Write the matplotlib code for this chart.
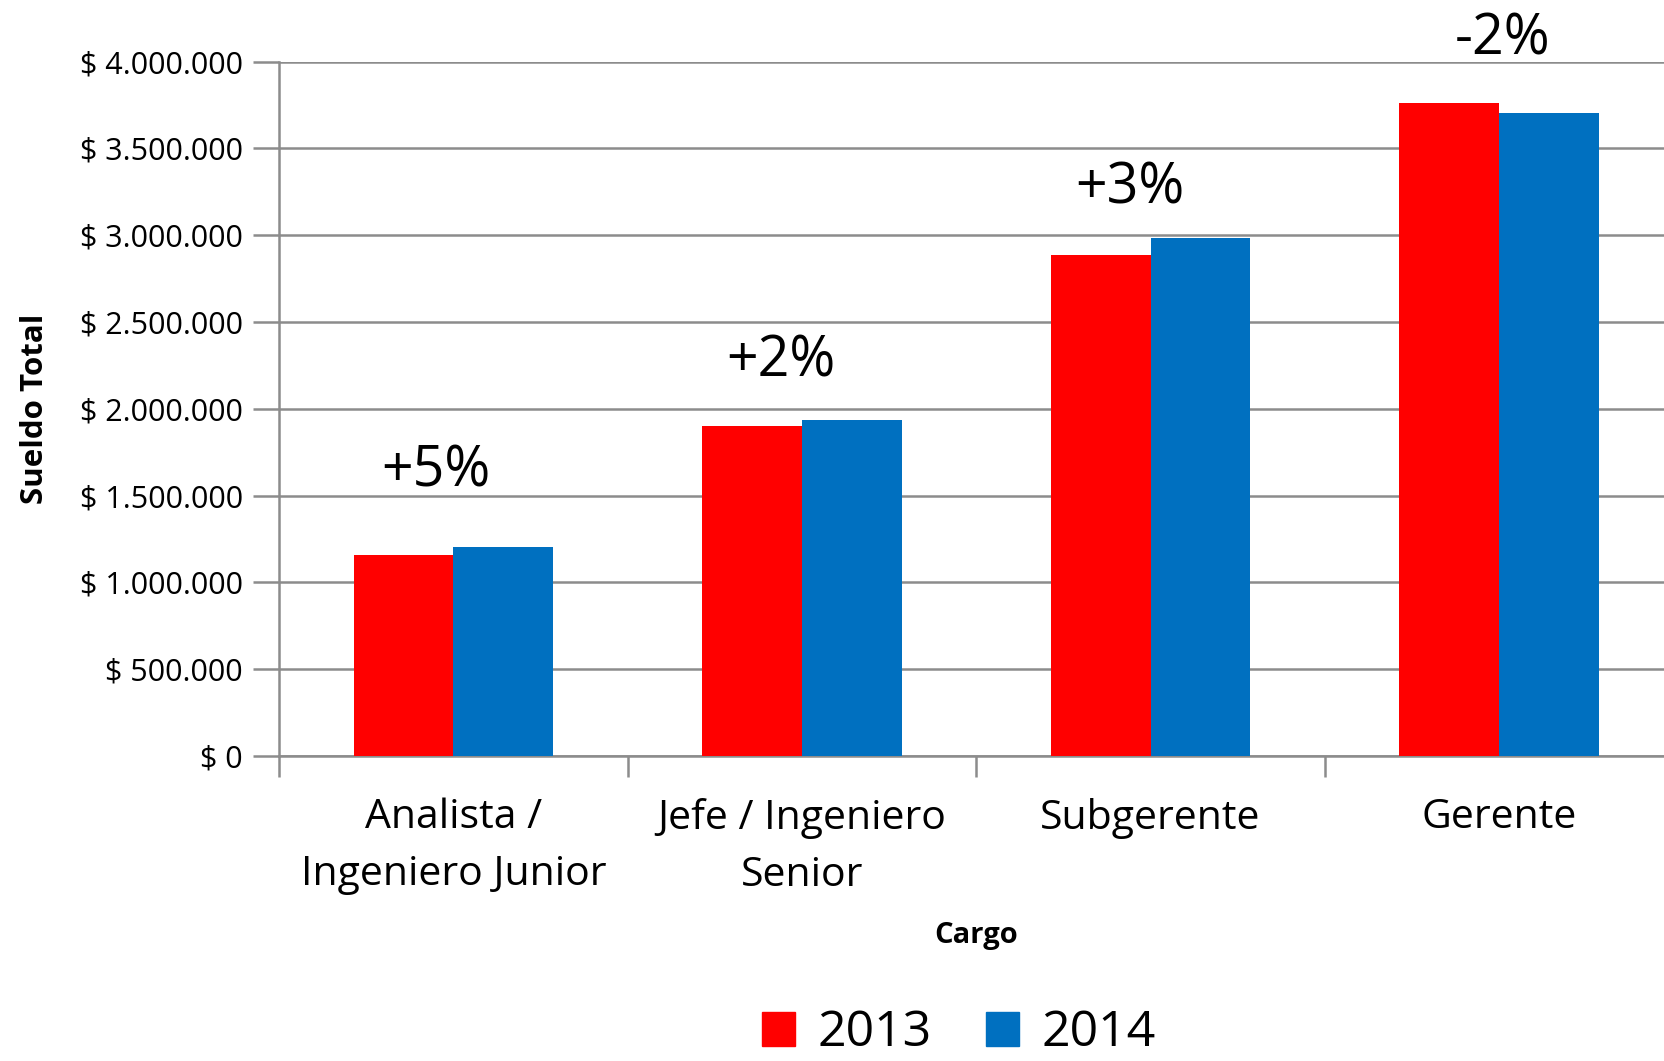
import matplotlib
matplotlib.use("Agg")
import matplotlib.pyplot as plt
from matplotlib.patches import Patch
from matplotlib.ticker import FuncFormatter
import numpy as np

# datos
cargos = ["Analista /\nIngeniero Junior", "Jefe / Ingeniero\nSenior", "Subgerente", "Gerente"]
sueldo_2013 = [1156000, 1902000, 2887000, 3761000]
sueldo_2014 = [1205000, 1933000, 2985000, 3706000]
variacion = ["+5%", "+2%", "+3%", "-2%"]
anios = ["2013", "2014"]

ROJO = "#FF0000"
AZUL = "#0070C0"
GRIS = "#8C8C8C"

plt.rcParams['font.family'] = ['Open Sans', 'DejaVu Sans']

fig = plt.figure(figsize=(16.65, 10.61), dpi=100)
ax = fig.add_axes([0.1677, 0.2875, 0.8373, 0.6545])

x = np.arange(len(cargos))
ancho = 0.2857
ax.bar(x - ancho / 2, sueldo_2013, ancho, color=ROJO, zorder=3)
ax.bar(x + ancho / 2, sueldo_2014, ancho, color=AZUL, zorder=3)

ax.set_xlim(-0.5, len(cargos) - 0.5)
ax.set_ylim(0, 4000000)
ax.set_yticks(np.arange(0, 4000001, 500000))
ax.yaxis.set_major_formatter(FuncFormatter(lambda v, p: "$ " + f"{int(v):,}".replace(",", ".")))
ax.grid(axis="y", color=GRIS, linewidth=1.8, zorder=0)

# marcas en los limites de categoria, etiquetas en el centro
ax.set_xticks(np.arange(-0.5, len(cargos) - 0.5, 1))
ax.set_xticklabels([])
ax.set_xticks(x, cargos, minor=True)
ax.tick_params(axis="x", which="major", length=15, width=1.8, color=GRIS, direction="out")
ax.tick_params(axis="x", which="minor", length=0, pad=30, labelsize=29.5)
for lbl in ax.get_xticklabels(minor=True):
    lbl.set_linespacing(1.55)
ax.tick_params(axis="y", length=19, width=1.8, color=GRIS, pad=7, labelsize=22)

for s in ["top", "right"]:
    ax.spines[s].set_visible(False)
for s in ["left", "bottom"]:
    ax.spines[s].set_color(GRIS)
    ax.spines[s].set_linewidth(1.8)

# etiquetas de variacion sobre cada grupo
desplaz_y = [350000, 250000, 200000, 280000]
desplaz_x = [-0.05, -0.06, -0.06, 0.01]
for i, txt in enumerate(variacion):
    tope = max(sueldo_2013[i], sueldo_2014[i])
    ax.text(x[i] + desplaz_x[i], tope + desplaz_y[i], txt, ha="center", va="baseline",
            fontsize=40, clip_on=False, zorder=5)

fig.text(0.021, 0.6145, "Sueldo Total", rotation=90, ha="center", va="center",
         fontsize=22.5, fontweight="bold")
fig.text(0.5865, 0.118, "Cargo", ha="center", va="center", fontsize=21, fontweight="bold")

handles = [Patch(color=ROJO), Patch(color=AZUL)]
fig.legend(handles, anios, loc="lower center", bbox_to_anchor=(0.576, -0.04), ncol=2,
           frameon=False, fontsize=36, handlelength=0.65, handleheight=0.65,
           handletextpad=0.45, columnspacing=1.1)

fig.savefig("out.png", dpi=100)
